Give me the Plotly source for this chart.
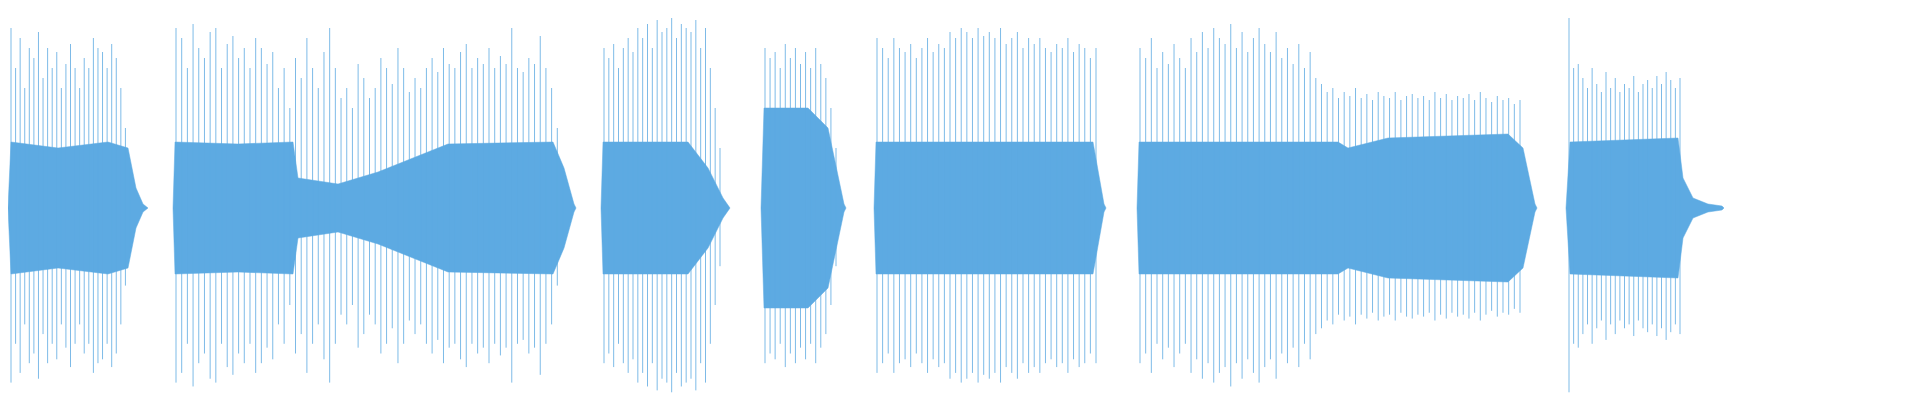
"""Audio waveform overview (peak envelope)"""

import plotly.graph_objects as go

# Dense core envelope per region: sample position (px) and amplitude (0..1)
core_x = [
    [0, 3, 50, 100, 120, 128, 135, 140],
    [165, 167, 230, 285, 290, 330, 370, 420, 440, 545, 556, 566, 568],
    [593, 595, 680, 700, 715, 722],
    [753, 756, 800, 820, 836, 838],
    [866, 868, 1085, 1096, 1098],
    [1129, 1131, 1330, 1340, 1380, 1500, 1515, 1527, 1529],
    [1558, 1562, 1670, 1675, 1685, 1700, 1714, 1716],
]
core_amp = [
    [0, 0.33, 0.3, 0.33, 0.3, 0.1, 0.02, 0],
    [0, 0.33, 0.32, 0.33, 0.15, 0.12, 0.18, 0.28, 0.32, 0.33, 0.2, 0.02, 0],
    [0, 0.33, 0.33, 0.2, 0.05, 0],
    [0, 0.5, 0.5, 0.4, 0.02, 0],
    [0, 0.33, 0.33, 0.02, 0],
    [0, 0.33, 0.33, 0.3, 0.35, 0.37, 0.3, 0.02, 0],
    [0, 0.33, 0.35, 0.15, 0.05, 0.02, 0.01, 0],
]

# Peak spikes per region: (start px, end px, peak amplitudes)
seg_start = [3, 168, 596, 757, 869, 1132, 1561]
seg_end = [122, 555, 712, 828, 1088, 1512, 1672]
seg_peaks = [
    [0.9, 0.7, 0.85, 0.6, 0.8, 0.75, 0.88, 0.65, 0.8, 0.7, 0.78, 0.6, 0.72, 0.82, 0.7,
     0.6, 0.75, 0.7, 0.85, 0.8, 0.78, 0.7, 0.82, 0.75, 0.6, 0.4, 0.2],
    [0.9, 0.85, 0.7, 0.92, 0.8, 0.75, 0.88, 0.9, 0.7, 0.82, 0.86, 0.75, 0.8, 0.7, 0.85,
     0.8, 0.72, 0.78, 0.6, 0.7, 0.5, 0.75, 0.65, 0.85, 0.7, 0.6, 0.78, 0.9, 0.7, 0.55,
     0.6, 0.5, 0.72, 0.65, 0.55, 0.6, 0.75, 0.7, 0.62, 0.8, 0.7, 0.58, 0.65, 0.6, 0.7,
     0.75, 0.68, 0.8, 0.72, 0.7, 0.78, 0.82, 0.7, 0.75, 0.72, 0.8, 0.7, 0.76, 0.72,
     0.9, 0.7, 0.68, 0.75, 0.72, 0.86, 0.7, 0.6, 0.4, 0.2],
    [0.8, 0.75, 0.82, 0.7, 0.8, 0.85, 0.78, 0.9, 0.85, 0.92, 0.8, 0.94, 0.88, 0.9,
     0.95, 0.85, 0.92, 0.9, 0.88, 0.94, 0.8, 0.9, 0.7, 0.5, 0.3],
    [0.8, 0.75, 0.78, 0.7, 0.82, 0.75, 0.8, 0.72, 0.78, 0.7, 0.8, 0.72, 0.65, 0.5, 0.3],
    [0.85, 0.8, 0.75, 0.85, 0.8, 0.78, 0.82, 0.75, 0.8, 0.85, 0.78, 0.82, 0.8, 0.88,
     0.85, 0.9, 0.88, 0.85, 0.9, 0.86, 0.88, 0.85, 0.9, 0.82, 0.85, 0.88, 0.8, 0.85,
     0.82, 0.85, 0.8, 0.78, 0.82, 0.8, 0.85, 0.78, 0.82, 0.8, 0.75, 0.8],
    [0.8, 0.75, 0.85, 0.7, 0.78, 0.72, 0.82, 0.75, 0.7, 0.85, 0.78, 0.88, 0.8, 0.9,
     0.85, 0.82, 0.92, 0.8, 0.88, 0.78, 0.85, 0.9, 0.82, 0.78, 0.88, 0.75, 0.8, 0.72,
     0.82, 0.7, 0.78, 0.65, 0.62, 0.58, 0.6, 0.55, 0.58, 0.56, 0.6, 0.55, 0.57, 0.54,
     0.58, 0.56, 0.55, 0.58, 0.54, 0.56, 0.57, 0.55, 0.56, 0.54, 0.58, 0.55, 0.57,
     0.54, 0.56, 0.55, 0.57, 0.54, 0.58, 0.55, 0.53, 0.56, 0.54, 0.55, 0.52, 0.54],
    [0.95, 0.7, 0.72, 0.65, 0.6, 0.7, 0.62, 0.58, 0.68, 0.6, 0.65, 0.58, 0.62, 0.6,
     0.66, 0.58, 0.62, 0.64, 0.6, 0.66, 0.62, 0.68, 0.64, 0.6, 0.65],
]

color = 'rgb(93, 170, 226)'

fig = go.Figure()

# core fill, one closed shape per region
for xs, amps in zip(core_x, core_amp):
    fig.add_trace(go.Scatter(
        x=xs + xs[::-1],
        y=amps + [-a for a in amps[::-1]],
        fill='toself', fillcolor=color, mode='lines',
        line=dict(color=color, width=0.5), hoverinfo='skip',
    ))

# spikes as thin vertical strokes
sx, sy = [], []
for s, e, peaks in zip(seg_start, seg_end, seg_peaks):
    n = len(peaks)
    for i, p in enumerate(peaks):
        x = s + (e - s) * i / (n - 1)
        sx += [x, x, None]
        sy += [p, -p * 0.97, None]
fig.add_trace(go.Scatter(x=sx, y=sy, mode='lines',
                         line=dict(color=color, width=1), opacity=0.8,
                         hoverinfo='skip'))

fig.update_layout(
    width=1920, height=400,
    margin=dict(l=0, r=0, t=0, b=0),
    showlegend=False,
    plot_bgcolor='white', paper_bgcolor='white',
    xaxis=dict(range=[0, 1920], visible=False),
    yaxis=dict(range=[-1, 1], visible=False),
)

fig.write_html("out.html")
